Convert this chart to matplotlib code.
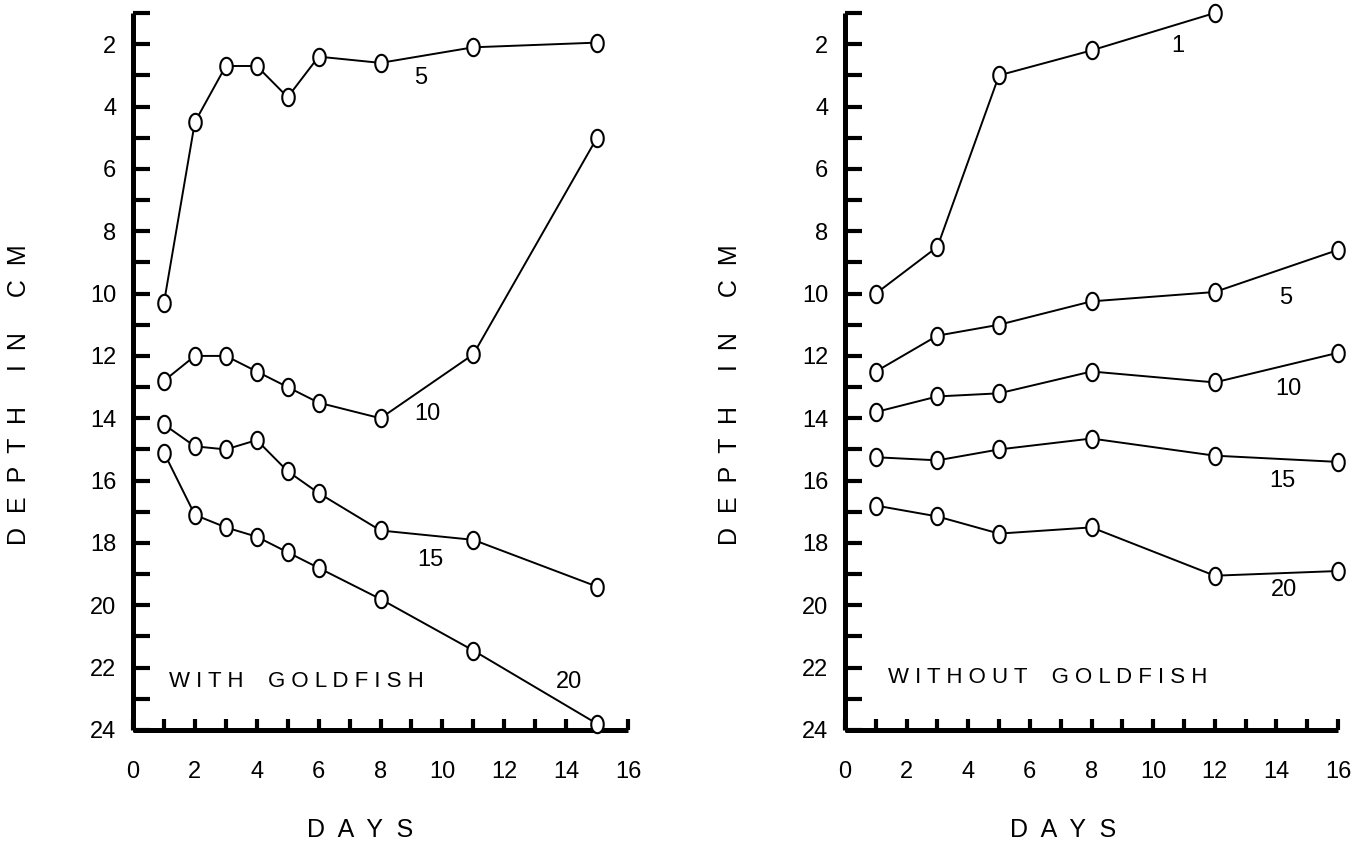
import numpy as np
import matplotlib
matplotlib.use("Agg")
import matplotlib.pyplot as plt

plt.rcParams['font.family'] = ['Liberation Sans', 'DejaVu Sans']

# --- with goldfish ---
days_with = [1, 2, 3, 4, 5, 6, 8, 11, 15]
with_5 = [10.3, 4.5, 2.7, 2.7, 3.7, 2.4, 2.6, 2.1, 1.95]
with_10 = [12.8, 12.0, 12.0, 12.5, 13.0, 13.5, 14.0, 11.95, 5.0]
with_15 = [14.2, 14.9, 15.0, 14.7, 15.7, 16.4, 17.6, 17.9, 19.4]
with_20 = [15.1, 17.1, 17.5, 17.8, 18.3, 18.8, 19.8, 21.45, 23.8]

# --- without goldfish ---
days_without = [1, 3, 5, 8, 12, 16]
without_1 = [10.0, 8.5, 3.0, 2.2, 1.0]
without_5 = [12.5, 11.35, 11.0, 10.25, 9.95, 8.6]
without_10 = [13.8, 13.3, 13.2, 12.5, 12.85, 11.9]
without_15 = [15.25, 15.35, 15.0, 14.65, 15.2, 15.4]
without_20 = [16.8, 17.15, 17.7, 17.5, 19.05, 18.9]

# series label positions (day, depth)
lab_with = [("5", 9.3, 3.1), ("10", 9.5, 13.85), ("15", 9.6, 18.55), ("20", 14.1, 22.45)]
lab_without = [("1", 10.8, 2.05), ("5", 14.3, 10.15), ("10", 14.4, 13.05),
               ("15", 14.2, 16.0), ("20", 14.25, 19.5)]

t = np.linspace(0, 2 * np.pi, 60)
ellipse = np.column_stack([0.72 * np.cos(t), np.sin(t)])

W, H = 1364, 843
fig = plt.figure(figsize=(W / 100, H / 100), dpi=100)

def make_axes(left_px, right_px):
    ax = fig.add_axes([left_px / W, 1 - 730 / H, (right_px - left_px) / W, (730 - 13) / H])
    ax.set_xlim(0, 16)
    ax.set_ylim(24, 1)
    for s in ['top', 'right']:
        ax.spines[s].set_visible(False)
    for s in ['left', 'bottom']:
        ax.spines[s].set_linewidth(3.6)
        ax.spines[s].set_capstyle('butt')
    ax.set_xticks(range(0, 17))
    ax.set_xticklabels([str(d) if d % 2 == 0 else '' for d in range(0, 17)])
    ax.set_yticks(range(1, 25))
    ax.set_yticklabels([str(d) if d % 2 == 0 else '' for d in range(1, 25)])
    ax.tick_params(axis='x', direction='in', length=8, width=3, pad=22, labelsize=17)
    ax.tick_params(axis='y', direction='in', length=12, width=3, pad=12, labelsize=17)
    ax.patch.set_alpha(0)
    return ax

def draw(ax, x, y):
    ax.plot(x[:len(y)], y, color='black', lw=1.4, marker=ellipse, markersize=12.5,
            markerfacecolor='white', markeredgecolor='black', markeredgewidth=1.5,
            clip_on=False, zorder=3)

ax1 = make_axes(133, 628)
for s in [with_5, with_10, with_15, with_20]:
    draw(ax1, days_with, s)
for txt, d, y in lab_with:
    ax1.text(d, y, txt, fontsize=17, ha='center', va='center')
ax1.text(1.15, 22.45, "W I T H    G O L D F I S H", fontsize=16, ha='left', va='center')

ax2 = make_axes(845, 1338)
for s in [without_1, without_5, without_10, without_15, without_20]:
    draw(ax2, days_without, s)
for txt, d, y in lab_without:
    ax2.text(d, y, txt, fontsize=17, ha='center', va='center')
ax2.text(1.4, 22.3, "W I T H O U T    G O L D F I S H", fontsize=16, ha='left', va='center')

fig.text(360 / W, 1 - 830 / H, "D  A  Y  S", fontsize=18, ha='center', va='center')
fig.text(1063 / W, 1 - 830 / H, "D  A  Y  S", fontsize=18, ha='center', va='center')
fig.text(19 / W, 1 - 395 / H, "D  E  P  T  H     I  N     C  M", fontsize=18, rotation=90,
         ha='center', va='center')
fig.text(730 / W, 1 - 395 / H, "D  E  P  T  H     I  N     C  M", fontsize=18, rotation=90,
         ha='center', va='center')

fig.savefig("out.png", dpi=100)
